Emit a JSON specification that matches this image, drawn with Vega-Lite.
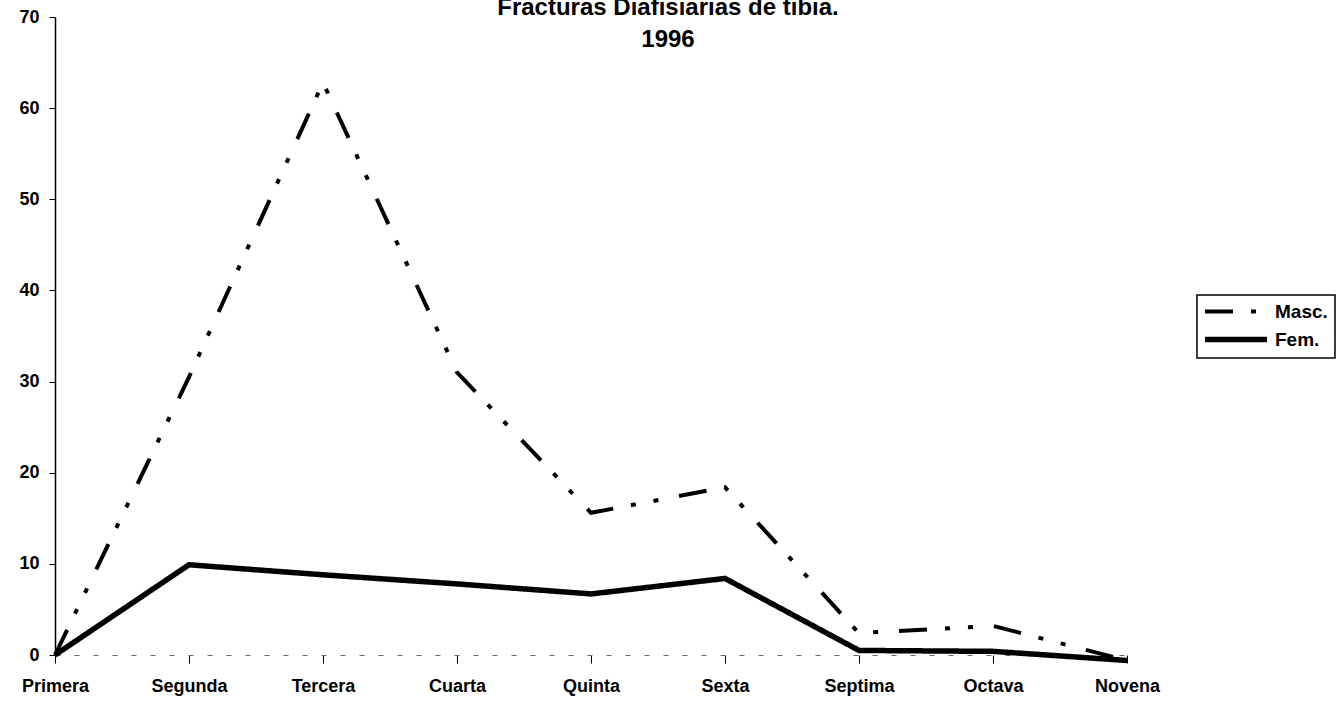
{
  "$schema": "https://vega.github.io/schema/vega-lite/v6.json",
  "autosize": {"type": "none"},
  "padding": {"left": 55, "top": 17, "right": 214, "bottom": 56},
  "width": 1072,
  "height": 638,
  "background": "white",
  "config": {"legend": {"strokeWidth": 1.5}, "view": {"stroke": null}},
  "title": {
    "text": ["Fracturas Diafisiarias de tibia.", "1996"],
    "font": "Liberation Sans",
    "fontSize": 24,
    "fontWeight": "bold",
    "color": "black",
    "anchor": "middle",
    "dx": 77,
    "offset": -44,
    "lineHeight": 32
  },
  "data": {
    "values": [
      {"grado": "Primera", "sexo": "Masc.", "valor": 0},
      {"grado": "Segunda", "sexo": "Masc.", "valor": 30.5},
      {"grado": "Tercera", "sexo": "Masc.", "valor": 62.8},
      {"grado": "Cuarta", "sexo": "Masc.", "valor": 31},
      {"grado": "Quinta", "sexo": "Masc.", "valor": 15.6},
      {"grado": "Sexta", "sexo": "Masc.", "valor": 18.4},
      {"grado": "Septima", "sexo": "Masc.", "valor": 2.4},
      {"grado": "Octava", "sexo": "Masc.", "valor": 3.2},
      {"grado": "Novena", "sexo": "Masc.", "valor": -0.6},
      {"grado": "Primera", "sexo": "Fem.", "valor": 0},
      {"grado": "Segunda", "sexo": "Fem.", "valor": 9.9},
      {"grado": "Tercera", "sexo": "Fem.", "valor": 8.8},
      {"grado": "Cuarta", "sexo": "Fem.", "valor": 7.8},
      {"grado": "Quinta", "sexo": "Fem.", "valor": 6.7},
      {"grado": "Sexta", "sexo": "Fem.", "valor": 8.4},
      {"grado": "Septima", "sexo": "Fem.", "valor": 0.5},
      {"grado": "Octava", "sexo": "Fem.", "valor": 0.4},
      {"grado": "Novena", "sexo": "Fem.", "valor": -0.6}
    ]
  },
  "mark": {"type": "line", "color": "black", "strokeCap": "butt", "clip": false},
  "encoding": {
    "x": {
      "field": "grado",
      "type": "ordinal",
      "sort": ["Primera", "Segunda", "Tercera", "Cuarta", "Quinta", "Sexta", "Septima", "Octava", "Novena"],
      "scale": {"type": "point", "padding": 0},
      "axis": {
        "title": null,
        "labelAngle": 0,
        "labelFont": "Liberation Sans",
        "labelFontSize": 18,
        "labelFontWeight": "bold",
        "labelColor": "black",
        "labelPadding": 14,
        "domainColor": "#666",
        "domainDash": [5, 14],
        "domainWidth": 1,
        "tickColor": "black",
        "tickSize": 8,
        "labelFlush": false
      }
    },
    "y": {
      "field": "valor",
      "type": "quantitative",
      "scale": {"domain": [0, 70], "nice": false, "zero": false},
      "axis": {
        "title": null,
        "values": [0, 10, 20, 30, 40, 50, 60, 70],
        "grid": false,
        "labelFont": "Liberation Sans",
        "labelFontSize": 18,
        "labelFontWeight": "bold",
        "labelColor": "black",
        "labelPadding": 10,
        "domainColor": "black",
        "domainWidth": 1.5,
        "tickColor": "black",
        "tickSize": 6
      }
    },
    "strokeDash": {
      "field": "sexo",
      "type": "nominal",
      "scale": {"domain": ["Masc.", "Fem."], "range": [[28, 18, 5, 18, 5, 21], [1, 0]]},
      "legend": {
        "title": null,
        "orient": "none",
        "legendX": 1142,
        "legendY": 278,
        "strokeColor": "black",
        "fillColor": "white",
        "padding": 7,
        "rowPadding": 6,
        "symbolType": "M-1.7,0H10.7",
        "symbolSize": 100,
        "symbolStrokeColor": "black",
        "labelFont": "Liberation Sans",
        "labelFontSize": 19,
        "labelFontWeight": "bold",
        "labelColor": "black",
        "labelOffset": 52
      }
    },
    "strokeWidth": {
      "field": "sexo",
      "type": "nominal",
      "scale": {"domain": ["Masc.", "Fem."], "range": [4, 5.5]}
    }
  }
}
